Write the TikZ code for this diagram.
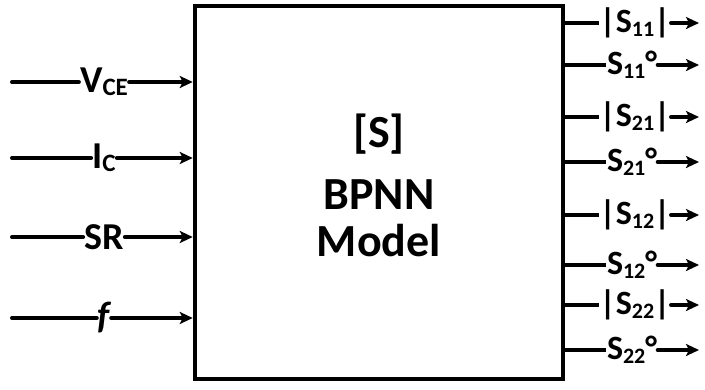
\documentclass[tikz,border=0pt]{standalone}
\usepackage{fontspec}
\setmainfont{Carlito}
\usetikzlibrary{arrows.meta}
\newcommand*{\lowsub}[2][22]{\raisebox{-3.5pt}{\fontsize{#1}{#1}\selectfont #2}}

\tikzset{
  wire/.style={line width=4pt, line cap=round},
  sig/.style={wire, -{Stealth[length=13pt, width=12pt, inset=3pt]}},
  inlab/.style={inner sep=1pt, font=\fontsize{38}{38}\selectfont\bfseries},
  outlab/.style={inner sep=0.5pt, font=\fontsize{34}{34}\selectfont\bfseries},
  title/.style={anchor=base, font=\fontsize{46}{46}\selectfont\bfseries},
}

\begin{document}
\begin{tikzpicture}[x=1pt, y=-1pt]
    \useasboundingbox (0,0) rectangle (705,390);
    \node[draw, line width=4.5pt, minimum width=368pt, minimum height=373pt] (model) at (379,192.5) {};
    \node[title] (name1) at (379,148) {[S]};
    \node[title] (name2) at (379,210) {BPNN};
    \node[title] (name3) at (379,257) {Model};

    % inputs
    \foreach \y/\lab/\nm in {82/{V\lowsub[25]{CE}}/vce, 158/{I\lowsub[25]{C}}/ic, 237/{SR}/sr, 318/{\itshape f}/freq} {
            \coordinate (\nm-in) at (12,\y);
            \node[inlab] (\nm) at (104,\y) {\lab};
            \draw[wire] (\nm-in) -- (\nm);
            \draw[sig] (\nm) -- (model.west |- \nm);
        }

    % outputs
    \foreach \y/\lab/\nm/\xc in {23/{|S\lowsub{11}|}/mag11/635, 65/{S\lowsub{11}°}/ph11/632,
            117/{|S\lowsub{21}|}/mag21/635, 162/{S\lowsub{21}°}/ph21/632,
            215/{|S\lowsub{12}|}/mag12/635, 265/{S\lowsub{12}°}/ph12/632,
            305/{|S\lowsub{22}|}/mag22/635, 350/{S\lowsub{22}°}/ph22/632} {
            \coordinate (\nm-out) at (699,\y);
            \node[outlab] (\nm) at (\xc,\y) {\lab};
            \draw[wire, line cap=butt] (model.east |- \nm) -- (\nm);
            \draw[sig] (\nm) -- (\nm-out);
        }
\end{tikzpicture}
\end{document}
